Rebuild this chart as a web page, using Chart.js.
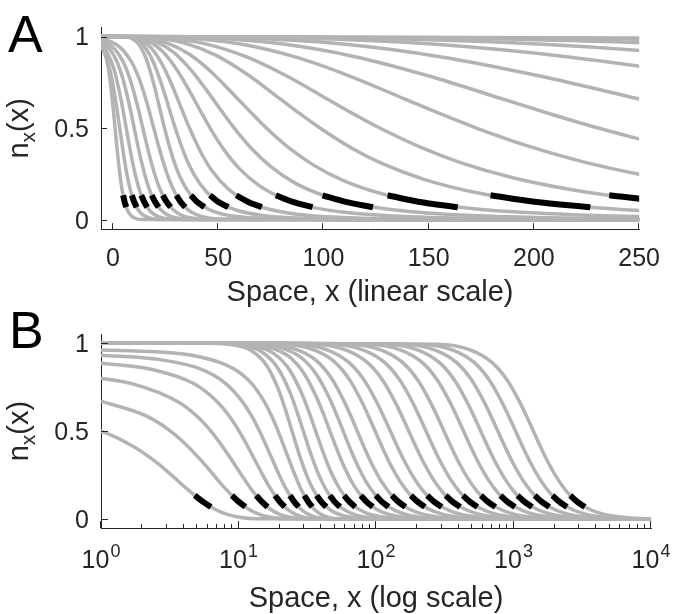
<!DOCTYPE html>
<html>
<head>
<meta charset="utf-8">
<title>Front profiles n_x(x)</title>
<script src="https://cdn.jsdelivr.net/npm/chart.js@4.4.1/dist/chart.umd.min.js"></script>
<style>
  html, body { margin: 0; padding: 0; background: #fff; }
  #fig { position: relative; width: 675px; height: 614px; }
  #fig canvas { position: absolute; left: 0; }
  #panelA { top: 0; }
  #panelB { top: 307px; }
</style>
</head>
<body>
<div id="fig">
  <canvas id="panelA" width="675" height="307"></canvas>
  <canvas id="panelB" width="675" height="307"></canvas>
</div>
<script>
// one profile n_x(x) per time step
const n01x = [-6.18, -4.13, -2.59, -1.46, -0.44, 0.28, 1, 1.72, 2.44, 3.26, 4.08, 4.9, 5.72, 6.74, 8.18, 10.2, 13.3, 10000];
const n01y = [0.971, 0.924, 0.852, 0.769, 0.668, 0.587, 0.5, 0.413, 0.332, 0.25, 0.182, 0.13, 0.091, 0.057, 0.029, 0.011, 0.0025, 0];
const n02x = [-7.65, -4.55, -2.23, -0.52, 1, 2.11, 3.2, 4.29, 5.37, 6.61, 7.85, 9.09, 10.33, 11.88, 14.05, 17.15, 21.8, 10000];
const n02y = [0.971, 0.924, 0.852, 0.769, 0.67, 0.587, 0.5, 0.413, 0.332, 0.25, 0.182, 0.13, 0.091, 0.057, 0.029, 0.011, 0.0025, 0];
const n03x = [-7.18, -3.33, -0.44, 1, 1.68, 3.6, 4.95, 6.3, 7.65, 9.0, 10.54, 12.08, 13.62, 15.16, 17.08, 19.78, 23.63, 29.4, 10000];
const n03y = [0.971, 0.924, 0.852, 0.8, 0.769, 0.668, 0.587, 0.5, 0.413, 0.332, 0.25, 0.182, 0.13, 0.091, 0.057, 0.029, 0.011, 0.0025, 0];
const n04x = [-12.3, -5.58, -1.1, 1, 1.5, 2.26, 4.72, 6.96, 8.53, 10.1, 11.67, 13.24, 15.03, 16.82, 18.61, 20.4, 22.64, 25.78, 30.26, 37.0, 10000];
const n04y = [0.993, 0.971, 0.924, 0.884, 0.872, 0.852, 0.769, 0.668, 0.587, 0.5, 0.413, 0.332, 0.25, 0.182, 0.13, 0.091, 0.057, 0.029, 0.011, 0.0025, 0];
const n05x = [-11.3, -3.65, 1, 2.5, 5.28, 8.08, 10.63, 12.42, 14.2, 15.99, 17.77, 19.81, 21.85, 23.89, 25.93, 28.48, 32.05, 37.15, 44.8, 10000];
const n05y = [0.993, 0.971, 0.93, 0.908, 0.852, 0.769, 0.668, 0.587, 0.5, 0.413, 0.332, 0.25, 0.182, 0.13, 0.091, 0.057, 0.029, 0.011, 0.0025, 0];
const n06x = [-9.45, -0.8, 1, 2.5, 4.97, 9.3, 12.48, 15.36, 17.38, 19.4, 21.42, 23.44, 25.75, 28.06, 30.36, 32.67, 35.56, 39.6, 45.37, 54.0, 10000];
const n06y = [0.993, 0.971, 0.96, 0.949, 0.924, 0.852, 0.769, 0.668, 0.587, 0.5, 0.413, 0.332, 0.25, 0.182, 0.13, 0.091, 0.057, 0.029, 0.011, 0.0025, 0];
const n07x = [-10, 1, 4.9, 8.58, 12.25, 15.93, 19.6, 22.05, 24.5, 28.18, 31.85, 36.75, 42.88, 49, 58.8, 73.5, 98, 147, 245, 10000];
const n07y = [1, 1, 0.999, 0.991, 0.958, 0.874, 0.732, 0.616, 0.5, 0.348, 0.235, 0.139, 0.075, 0.042, 0.019, 0.007, 0.002, 0.0003, 0, 0];
const n08x = [-10, 1, 5.92, 10.36, 14.8, 19.24, 23.68, 26.64, 29.6, 34.04, 38.48, 44.4, 51.8, 59.2, 71.04, 88.8, 118.4, 177.6, 296, 10000];
const n08y = [1, 1, 0.999, 0.988, 0.948, 0.859, 0.719, 0.609, 0.5, 0.357, 0.249, 0.154, 0.087, 0.052, 0.025, 0.01, 0.003, 0.0005, 0, 0];
const n09x = [-10, 1, 7.28, 12.74, 18.2, 23.66, 29.12, 32.76, 36.4, 41.86, 47.32, 54.6, 63.7, 72.8, 87.36, 109.2, 145.6, 218.4, 364, 10000];
const n09y = [1, 1, 0.998, 0.984, 0.937, 0.843, 0.705, 0.601, 0.5, 0.367, 0.264, 0.171, 0.101, 0.063, 0.032, 0.014, 0.0045, 0.0009, 0.0001, 0];
const n10x = [-10, 1, 9.24, 16.17, 23.1, 30.03, 36.96, 41.58, 46.2, 53.13, 60.06, 69.3, 80.85, 92.4, 110.88, 138.6, 184.8, 277.2, 462, 10000];
const n10y = [1, 1, 0.997, 0.978, 0.924, 0.825, 0.691, 0.594, 0.5, 0.377, 0.28, 0.189, 0.118, 0.076, 0.041, 0.019, 0.0068, 0.0016, 0.0003, 0];
const n11x = [-10, 1, 11.54, 20.2, 28.85, 37.5, 46.16, 51.93, 57.7, 66.36, 75.01, 86.55, 100.98, 115.4, 138.48, 173.1, 230.8, 346.2, 577, 10000];
const n11y = [1, 1, 0.996, 0.973, 0.914, 0.812, 0.681, 0.589, 0.5, 0.383, 0.291, 0.201, 0.13, 0.087, 0.049, 0.023, 0.0089, 0.0023, 0.0004, 0];
const n12x = [-10, 1, 14.6, 25.55, 36.5, 47.45, 58.4, 65.7, 73, 83.95, 94.9, 109.5, 127.75, 146, 175.2, 219, 292, 438, 730, 10000];
const n12y = [1, 1, 0.994, 0.966, 0.902, 0.799, 0.671, 0.584, 0.5, 0.39, 0.302, 0.215, 0.143, 0.098, 0.057, 0.029, 0.0117, 0.0032, 0.0006, 0];
const n13x = [-10, 1, 19.7, 34.48, 49.25, 64.03, 78.8, 88.65, 98.5, 113.28, 128.05, 147.75, 172.38, 197, 236.4, 295.5, 394, 591, 985, 10000];
const n13y = [1, 1, 0.993, 0.963, 0.896, 0.792, 0.666, 0.581, 0.5, 0.393, 0.307, 0.222, 0.15, 0.104, 0.062, 0.032, 0.0134, 0.0039, 0.0008, 0];
const n14x = [-10, 1, 25.4, 44.45, 63.5, 82.55, 101.6, 114.3, 127, 146.05, 165.1, 190.5, 222.25, 254, 304.8, 381, 508, 762, 1270, 10000];
const n14y = [1, 1, 0.992, 0.959, 0.889, 0.785, 0.661, 0.578, 0.5, 0.397, 0.313, 0.229, 0.157, 0.111, 0.068, 0.036, 0.0154, 0.0046, 0.001, 0];
const n15x = [-10, 1, 34.6, 60.55, 86.5, 112.45, 138.4, 155.7, 173, 198.95, 224.9, 259.5, 302.75, 346, 415.2, 519, 692, 1038, 1730, 10000];
const n15y = [1, 1, 0.992, 0.959, 0.889, 0.785, 0.661, 0.578, 0.5, 0.397, 0.313, 0.229, 0.157, 0.111, 0.068, 0.036, 0.0154, 0.0046, 0.001, 0];
const n16x = [-10, 1, 46.2, 80.85, 115.5, 150.15, 184.8, 207.9, 231, 265.65, 300.3, 346.5, 404.25, 462, 554.4, 693, 924, 1386, 2310, 10000];
const n16y = [1, 1, 0.992, 0.959, 0.889, 0.785, 0.661, 0.578, 0.5, 0.397, 0.313, 0.229, 0.157, 0.111, 0.068, 0.036, 0.0154, 0.0046, 0.001, 0];
const n17x = [-10, 1, 62.4, 109.2, 156, 202.8, 249.6, 280.8, 312, 358.8, 405.6, 468, 546, 624, 748.8, 936, 1248, 1872, 3120, 10000];
const n17y = [1, 1, 0.992, 0.959, 0.889, 0.785, 0.661, 0.578, 0.5, 0.397, 0.313, 0.229, 0.157, 0.111, 0.068, 0.036, 0.0154, 0.0046, 0.001, 0];
const n18x = [-10, 1, 86.6, 151.55, 216.5, 281.45, 346.4, 389.7, 433, 497.95, 562.9, 649.5, 757.75, 866, 1039.2, 1299, 1732, 2598, 4330, 10000];
const n18y = [1, 1, 0.992, 0.959, 0.889, 0.785, 0.661, 0.578, 0.5, 0.397, 0.313, 0.229, 0.157, 0.111, 0.068, 0.036, 0.0154, 0.0046, 0.001, 0];
const n19x = [-10, 1, 115.4, 201.95, 288.5, 375.05, 461.6, 519.3, 577, 663.55, 750.1, 865.5, 1009.75, 1154, 1384.8, 1731, 2308, 3462, 5770, 10000];
const n19y = [1, 1, 0.992, 0.959, 0.889, 0.785, 0.661, 0.578, 0.5, 0.397, 0.313, 0.229, 0.157, 0.111, 0.068, 0.036, 0.0154, 0.0046, 0.001, 0];
const n20x = [-10, 1, 153.8, 269.15, 384.5, 499.85, 615.2, 692.1, 769, 884.35, 999.7, 1153.5, 1345.75, 1538, 1845.6, 2307, 3076, 4614, 7690, 10000];
const n20y = [1, 1, 0.992, 0.959, 0.889, 0.785, 0.661, 0.578, 0.5, 0.397, 0.313, 0.229, 0.157, 0.111, 0.068, 0.036, 0.0154, 0.0046, 0.001, 0];
const n21x = [-10, 1, 206.8, 361.9, 517, 672.1, 827.2, 930.6, 1034, 1189.1, 1344.2, 1551, 1809.5, 2068, 2481.6, 3102, 4136, 6204, 10340];
const n21y = [1, 1, 0.992, 0.959, 0.889, 0.785, 0.661, 0.578, 0.5, 0.397, 0.313, 0.229, 0.157, 0.111, 0.068, 0.036, 0.0154, 0.0046, 0.001];
const n22x = [-10, 1, 278.8, 487.9, 697, 906.1, 1115.2, 1254.6, 1394, 1603.1, 1812.2, 2091, 2439.5, 2788, 3345.6, 4182, 5576, 8364, 13940];
const n22y = [1, 1, 0.992, 0.959, 0.889, 0.785, 0.661, 0.578, 0.5, 0.397, 0.313, 0.229, 0.157, 0.111, 0.068, 0.036, 0.0154, 0.0046, 0.001];

// black pieces around n = 0.1 on each profile (null = break)
const dashX = [4.81, 5.5, 6.3, null, 8.96, 10.01, 11.22, null, 13.45, 14.76, 16.26, null,
  18.42, 19.94, 21.69, null, 23.67, 25.4, 27.39, null, 30.11, 32.08, 34.33, null,
  37.0, 39.9, 43.5, null, 46.1, 49.9, 54.8, null, 58.6, 64.0, 70.7, null,
  77.4, 85.1, 94.8, null, 99.6, 110.1, 123.5, null, 130.5, 145.1, 163.8, null,
  179.4, 200.2, 226.8, null, 235.8, 264.2, 300.7, null, 321.3, 359.8, 409.7, null,
  429, 480.5, 547, null, 579.4, 649, 738.8, null, 804.1, 900.6, 1025.3, null,
  1071.5, 1200.2, 1366.3, null, 1428, 1599.5, 1821, null, 1920, 2150.7, 2448.5, null,
  2588.7, 2899.5, 3301];
const dashY = [0.135, 0.1, 0.07, null, 0.135, 0.1, 0.07, null, 0.135, 0.1, 0.07, null,
  0.135, 0.1, 0.07, null, 0.135, 0.1, 0.07, null, 0.135, 0.1, 0.07, null,
  0.135, 0.1, 0.07, null, 0.135, 0.1, 0.07, null, 0.135, 0.1, 0.07, null,
  0.135, 0.1, 0.07, null, 0.135, 0.1, 0.07, null, 0.135, 0.1, 0.07, null,
  0.135, 0.1, 0.07, null, 0.135, 0.1, 0.07, null, 0.135, 0.1, 0.07, null,
  0.135, 0.1, 0.07, null, 0.135, 0.1, 0.07, null, 0.135, 0.1, 0.07, null,
  0.135, 0.1, 0.07, null, 0.135, 0.1, 0.07, null, 0.135, 0.1, 0.07, null,
  0.135, 0.1, 0.07];

const xTicksA = [0, 50, 100, 150, 200, 250];
const xTickLabelsA = ['0', '50', '100', '150', '200', '250'];
const yTicks = [0, 0.5, 1];
const yTickLabels = ['0', '0.5', '1'];
const xTicksB = [1, 10, 100, 1000, 10000];
const xTickExpB = ['0', '1', '2', '3', '4'];
const xMinorTicksB = [2, 3, 4, 5, 6, 7, 8, 9, 20, 30, 40, 50, 60, 70, 80, 90,
  200, 300, 400, 500, 600, 700, 800, 900, 2000, 3000, 4000, 5000, 6000, 7000, 8000, 9000];

const grayCurves = [
  [n01x, n01y], [n02x, n02y], [n03x, n03y], [n04x, n04y], [n05x, n05y], [n06x, n06y],
  [n07x, n07y], [n08x, n08y], [n09x, n09y], [n10x, n10y], [n11x, n11y], [n12x, n12y],
  [n13x, n13y], [n14x, n14y], [n15x, n15y], [n16x, n16y], [n17x, n17y], [n18x, n18y],
  [n19x, n19y], [n20x, n20y], [n21x, n21y], [n22x, n22y]
];

const INK = '#262626';
const GRAY = '#b3b3b3';
const FONT = '"Liberation Sans", Arial, sans-serif';

function toPoints(xs, ys, keep) {
  return xs.map((x, i) => ({ x: x, y: ys[i] })).filter(p => keep(p.x));
}

function buildDatasets(keep) {
  const common = { pointRadius: 0, fill: false, cubicInterpolationMode: 'monotone', clip: 0, spanGaps: false };
  const sets = [Object.assign({ data: toPoints(dashX, dashY, keep), borderColor: '#000', borderWidth: 6, order: 0 }, common)];
  grayCurves.forEach(([xs, ys]) => {
    sets.push(Object.assign({ data: toPoints(xs, ys, keep), borderColor: GRAY, borderWidth: 3.5, order: 1 }, common));
  });
  return sets;
}

// inward ticks, rotated n_x(x) label, panel letter, 10^k labels
const frame = {
  id: 'frame',
  afterDraw(chart, args, o) {
    const ctx = chart.ctx;
    const a = chart.chartArea;
    const xs = chart.scales.x, ys = chart.scales.y;
    ctx.save();
    ctx.strokeStyle = INK;
    ctx.lineWidth = 1;
    ctx.beginPath();
    o.xMajor.forEach(v => {
      const px = Math.round(xs.getPixelForValue(v)) - 0.5;
      ctx.moveTo(px, a.bottom); ctx.lineTo(px, a.bottom - o.major);
    });
    (o.xMinor || []).forEach(v => {
      const px = Math.round(xs.getPixelForValue(v)) - 0.5;
      ctx.moveTo(px, a.bottom); ctx.lineTo(px, a.bottom - o.minor);
    });
    yTicks.forEach(v => {
      const py = Math.round(ys.getPixelForValue(v)) + 0.5;
      ctx.moveTo(a.left, py); ctx.lineTo(a.left + o.major, py);
    });
    ctx.stroke();

    // y axis label n_x(x), reading upwards
    ctx.fillStyle = INK;
    ctx.textAlign = 'left';
    ctx.textBaseline = 'alphabetic';
    const big = '29px ' + FONT, small = '21px ' + FONT;
    ctx.font = big;
    const wn = ctx.measureText('n').width, wp = ctx.measureText('(x)').width;
    ctx.font = small;
    const wx = ctx.measureText('x').width;
    ctx.save();
    ctx.translate(o.titleX, (a.top + a.bottom) / 2);
    ctx.rotate(-Math.PI / 2);
    let cx = -(wn + wx + wp) / 2;
    ctx.font = big; ctx.fillText('n', cx, 0); cx += wn;
    ctx.font = small; ctx.fillText('x', cx, 7); cx += wx;
    ctx.font = big; ctx.fillText('(x)', cx, 0);
    ctx.restore();

    if (o.powers) {
      const base = '25px ' + FONT, sup = '18px ' + FONT;
      xTicksB.forEach((v, i) => {
        ctx.font = base;
        const wb = ctx.measureText('10').width;
        ctx.font = sup;
        const we = ctx.measureText(xTickExpB[i]).width;
        const left = xs.getPixelForValue(v) - (wb + we + 1) / 2;
        ctx.font = base; ctx.fillText('10', left, a.bottom + 40);
        ctx.font = sup; ctx.fillText(xTickExpB[i], left + wb + 1, a.bottom + 29);
      });
    }

    ctx.fillStyle = '#000';
    ctx.font = '52px ' + FONT;
    ctx.fillText(o.letter, o.letterX, o.letterY);
    ctx.restore();
  }
};

function yScale() {
  return {
    type: 'linear', min: -0.05, max: 1.05,
    grid: { display: false, drawTicks: false },
    border: { color: INK, width: 1 },
    afterBuildTicks: s => { s.ticks = yTicks.map(value => ({ value })); },
    afterFit: s => { s.width = 101; },
    ticks: { color: INK, font: { family: FONT, size: 25 }, padding: 12, labelOffset: 2, autoSkip: false,
      callback: (v, i) => yTickLabels[i] }
  };
}

const baseOptions = {
  responsive: false, maintainAspectRatio: false, animation: false, devicePixelRatio: 1, events: []
};

new Chart(document.getElementById('panelA'), {
  type: 'line',
  data: { datasets: buildDatasets(() => true) },
  options: Object.assign({}, baseOptions, {
    layout: { padding: { left: 0, right: 24, top: 27.4, bottom: 0 } },
    plugins: {
      legend: { display: false }, tooltip: { enabled: false },
      frame: { letter: 'A', letterX: 8, letterY: 52, titleX: 28, major: 6, xMajor: xTicksA }
    },
    scales: {
      x: {
        type: 'linear', min: -5.7, max: 250,
        grid: { display: false, drawTicks: false },
        border: { color: INK, width: 1 },
        afterBuildTicks: s => { s.ticks = xTicksA.map(value => ({ value })); },
        afterFit: s => { s.height = 77.8; },
        ticks: { color: INK, font: { family: FONT, size: 25 }, padding: 15, maxRotation: 0, autoSkip: false,
          callback: (v, i) => xTickLabelsA[i] },
        title: { display: true, text: 'Space, x (linear scale)', color: INK,
          font: { family: FONT, size: 29, lineHeight: 0.95 }, padding: { top: 0, bottom: 0 } }
      },
      y: yScale()
    }
  }),
  plugins: [frame]
});

new Chart(document.getElementById('panelB'), {
  type: 'line',
  data: { datasets: buildDatasets(x => x === null || x > 0) },
  options: Object.assign({}, baseOptions, {
    layout: { padding: { left: 0, right: 24, top: 20.2, bottom: 0 } },
    plugins: {
      legend: { display: false }, tooltip: { enabled: false },
      frame: { letter: 'B', letterX: 9, letterY: 41, titleX: 28, major: 7, minor: 4,
        xMajor: xTicksB, xMinor: xMinorTicksB, powers: true }
    },
    scales: {
      x: {
        type: 'logarithmic', min: 1, max: 10000,
        grid: { display: false, drawTicks: false },
        border: { color: INK, width: 1 },
        afterBuildTicks: s => { s.ticks = xTicksB.map(value => ({ value })); },
        afterFit: s => { s.height = 85.9; },
        ticks: { display: false },
        title: { display: true, text: 'Space, x (log scale)', color: INK,
          font: { family: FONT, size: 29, lineHeight: 0.95 }, padding: { top: 0, bottom: 1 } }
      },
      y: yScale()
    }
  }),
  plugins: [frame]
});
</script>
</body>
</html>
